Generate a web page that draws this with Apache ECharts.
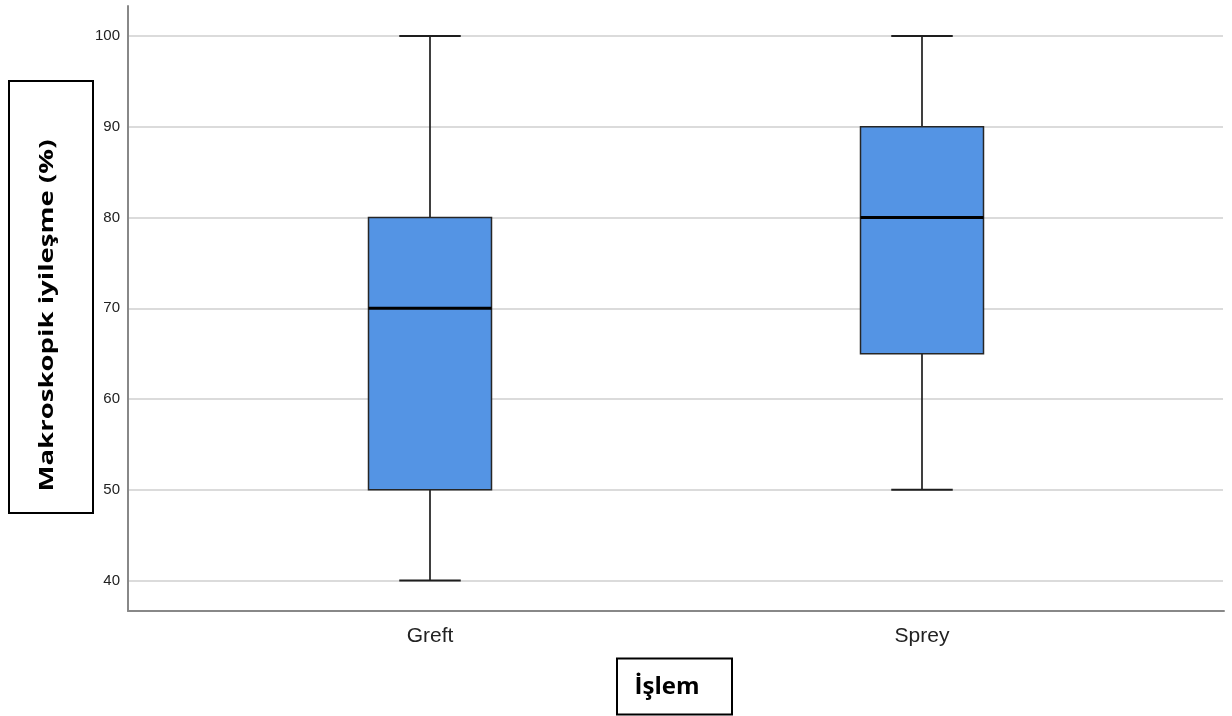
<!DOCTYPE html>
<html>
<head>
<meta charset="utf-8">
<style>
  html, body { margin: 0; padding: 0; background: #fff; }
  #chart { width: 1232px; height: 716px; }
</style>
<script src="https://cdn.jsdelivr.net/npm/echarts@6/dist/echarts.min.js"></script>
</head>
<body>
<div id="chart"></div>
<script>
// Macroscopic healing (%) by treatment group — box summary per group
const categories = ['Greft', 'Sprey'];
const whiskerLow = [40, 50];
const quartile1 = [50, 65];
const medians = [70, 80];
const quartile3 = [80, 90];
const whiskerHigh = [100, 100];

const yTitle = 'Makroskopik iyileşme (%)';
const xTitle = 'İşlem';

const boxRows = categories.map((c, i) => [i, whiskerLow[i], quartile1[i], medians[i], quartile3[i], whiskerHigh[i]]);

// stretch factor for the vertical title so it spans its frame
function titleScale(text, font, target) {
  const ctx = document.createElement('canvas').getContext('2d');
  ctx.font = font;
  return target / ctx.measureText(text).width;
}
const yTitleFont = 'bold 20px "Open Sans"';
const yTitleScale = titleScale(yTitle, yTitleFont, 352);

const chart = echarts.init(document.getElementById('chart'), null, { renderer: 'canvas' });

function renderBox(params, api) {
  const x = api.value(0);
  const band = api.size([1, 0])[0];
  const boxW = band * 0.25;
  const capW = band * 0.125;
  const pLow = api.coord([x, api.value(1)]);
  const pQ1 = api.coord([x, api.value(2)]);
  const pMed = api.coord([x, api.value(3)]);
  const pQ3 = api.coord([x, api.value(4)]);
  const pHigh = api.coord([x, api.value(5)]);
  const cx = pMed[0];
  const whisker = { stroke: '#1e1e1e', lineWidth: 1.7 };
  return {
    type: 'group',
    children: [
      { type: 'line', shape: { x1: cx, y1: pHigh[1], x2: cx, y2: pQ3[1] }, style: whisker },
      { type: 'line', shape: { x1: cx, y1: pQ1[1], x2: cx, y2: pLow[1] }, style: whisker },
      { type: 'line', shape: { x1: cx - capW / 2, y1: pHigh[1], x2: cx + capW / 2, y2: pHigh[1] }, style: { stroke: '#1e1e1e', lineWidth: 2 } },
      { type: 'line', shape: { x1: cx - capW / 2, y1: pLow[1], x2: cx + capW / 2, y2: pLow[1] }, style: { stroke: '#1e1e1e', lineWidth: 2 } },
      { type: 'rect', shape: { x: cx - boxW / 2, y: pQ3[1], width: boxW, height: pQ1[1] - pQ3[1] },
        style: { fill: '#5494e4', stroke: '#262626', lineWidth: 1.5 } },
      { type: 'line', shape: { x1: cx - boxW / 2, y1: pMed[1], x2: cx + boxW / 2, y2: pMed[1] }, style: { stroke: '#000', lineWidth: 2.8 } }
    ]
  };
}

const option = {
  backgroundColor: '#fff',
  animation: false,
  grid: [
    // frame (axis lines)
    { left: 128, right: 8, top: 6, bottom: 105 },
    // gridlines + value labels
    { left: 128, right: 9, top: 36, bottom: 135.5 },
    // boxes
    { left: 184, right: 64, top: 36, bottom: 135.5 }
  ],
  xAxis: [
    { gridIndex: 0, type: 'value', min: 0, max: 1,
      axisLine: { show: true, lineStyle: { color: '#888', width: 2 } },
      axisTick: { show: false }, axisLabel: { show: false }, splitLine: { show: false } },
    { gridIndex: 1, type: 'value', min: 0, max: 1, show: false },
    { gridIndex: 2, type: 'category', data: categories,
      axisLine: { show: false }, axisTick: { show: false }, splitLine: { show: false },
      axisLabel: { margin: 45, color: '#222', fontSize: 21, fontFamily: 'Liberation Sans, Arial, sans-serif' } }
  ],
  yAxis: [
    { gridIndex: 0, type: 'value', min: 0, max: 1,
      axisLine: { show: true, lineStyle: { color: '#888', width: 2 } },
      axisTick: { show: false }, axisLabel: { show: false }, splitLine: { show: false } },
    { gridIndex: 1, type: 'value', min: 40, max: 100, interval: 10,
      axisLine: { show: false }, axisTick: { show: false },
      axisLabel: { margin: 8, color: '#222', fontSize: 15, padding: [5, 0, 0, 0],
        fontFamily: 'Liberation Sans, Arial, sans-serif' },
      splitLine: { show: true, lineStyle: { color: '#cfcfcf', width: 1.6 } } },
    { gridIndex: 2, type: 'value', min: 40, max: 100, show: false }
  ],
  series: [
    {
      type: 'custom',
      xAxisIndex: 2,
      yAxisIndex: 2,
      renderItem: renderBox,
      encode: { x: 0, y: [1, 2, 3, 4, 5] },
      data: boxRows,
      z: 5
    }
  ],
  graphic: [
    { type: 'rect', shape: { x: 9, y: 81, width: 84, height: 432 },
      style: { fill: '#fff', stroke: '#000', lineWidth: 2 }, z: 10 },
    { type: 'text', x: 47, y: 315.5, rotation: Math.PI / 2, scaleX: yTitleScale, scaleY: 1,
      style: { text: yTitle, font: yTitleFont, fill: '#000', align: 'center', verticalAlign: 'middle' }, z: 11 },
    { type: 'rect', shape: { x: 617, y: 658.5, width: 115, height: 56 },
      style: { fill: '#fff', stroke: '#000', lineWidth: 2 }, z: 10 },
    { type: 'text', x: 667, y: 687,
      style: { text: xTitle, font: 'bold 24px "Open Sans"', fill: '#000', align: 'center', verticalAlign: 'middle' }, z: 11 }
  ]
};

chart.setOption(option);
</script>
</body>
</html>
